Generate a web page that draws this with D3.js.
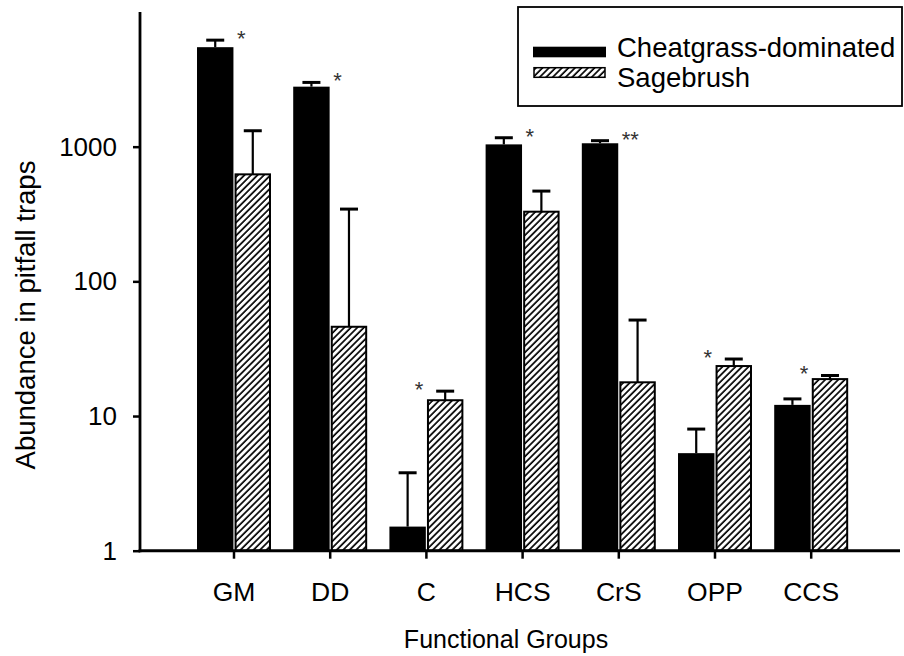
<!DOCTYPE html>
<html>
<head>
<meta charset="utf-8">
<script src="https://cdn.jsdelivr.net/npm/d3@7"></script>
<style>
	body { margin: 0; background: #fff; }
	text { font-family: "Liberation Sans", Arial, sans-serif; fill: #000; }
</style>
</head>
<body>
<svg id="chart" width="904" height="656"></svg>
<script>

// functional groups along the x axis
let groups = ['GM', 'DD', 'C', 'HCS', 'CrS', 'OPP', 'CCS'];
let series = ['Cheatgrass-dominated', 'Sagebrush'];

// means and standard errors
let cheatMean = [5480, 2790, 1.51, 1040, 1060, 5.3, 12.1];
let cheatErr = [700, 210, 2.28, 125, 48, 2.7, 1.3];
let sageMean = [623, 46, 13.1, 329, 17.8, 23.5, 18.8];
let sageErr = [690, 298, 2.2, 139, 33.8, 3.0, 1.2];

// significance marks
let sigMarks = ['*', '*', '*', '*', '**', '*', '*'];

let yTicks = [1, 10, 100, 1000];

let svg = d3.select('#chart');

let y = d3.scaleLog()
			.domain([1, 10000])
			.range([550.7, 12]);

let x0 = d3.scaleBand()
			.domain(groups)
			.range([185.9, 859.3])
			.paddingInner(0.231)
			.paddingOuter(0.1155);

let x1 = d3.scaleBand()
			.domain(series)
			.range([0, x0.bandwidth()])
			.paddingInner(0.03);

// hatch pattern for sagebrush
let defs = svg.append('defs');
let pat = defs.append('pattern')
			.attr('id', 'hatch')
			.attr('patternUnits', 'userSpaceOnUse')
			.attr('width', 4.6)
			.attr('height', 4.6)
			.attr('patternTransform', 'rotate(45)');
pat.append('rect').attr('width', 4.6).attr('height', 4.6).attr('fill', '#fff');
pat.append('line')
		.attr('x1', 1).attr('y1', 0).attr('x2', 1).attr('y2', 4.6)
		.attr('stroke', '#000').attr('stroke-width', 1.7);

let rows = groups.map(function(g, i) {
	return {
		group: g,
		sig: sigMarks[i],
		bars: [
			{ s: series[0], mean: cheatMean[i], err: cheatErr[i] },
			{ s: series[1], mean: sageMean[i], err: sageErr[i] }
		]
	};
});

let grp = svg.selectAll('g.grp')
				.data(rows)
			.enter().append('g')
				.attr('class', 'grp')
				.attr('transform', function(d) { return 'translate(' + x0(d.group) + ',0)'; });

let bar = grp.selectAll('g.bar')
				.data(function(d) { return d.bars; })
			.enter().append('g')
				.attr('class', 'bar');

// error bars (upper only) drawn first, bars on top
bar.append('line')
		.attr('x1', function(d) { return x1(d.s) + x1.bandwidth() / 2; })
		.attr('x2', function(d) { return x1(d.s) + x1.bandwidth() / 2; })
		.attr('y1', function(d) { return y(d.mean); })
		.attr('y2', function(d) { return y(d.mean + d.err); })
		.attr('stroke', '#000')
		.attr('stroke-width', 2.2);

bar.append('line')
		.attr('x1', function(d) { return x1(d.s) + x1.bandwidth() / 2 - 9; })
		.attr('x2', function(d) { return x1(d.s) + x1.bandwidth() / 2 + 9; })
		.attr('y1', function(d) { return y(d.mean + d.err); })
		.attr('y2', function(d) { return y(d.mean + d.err); })
		.attr('stroke', '#000')
		.attr('stroke-width', 3);

bar.append('rect')
		.attr('x', function(d) { return d.s === series[0] ? x1(d.s) : x1(d.s) + 1; })
		.attr('y', function(d) { return y(d.mean); })
		.attr('width', function(d) { return d.s === series[0] ? x1.bandwidth() : x1.bandwidth() - 2; })
		.attr('height', function(d) { return y(1) - y(d.mean); })
		.attr('fill', function(d) { return d.s === series[0] ? '#000' : 'url(#hatch)'; })
		.attr('stroke', '#000')
		.attr('stroke-width', function(d) { return d.s === series[0] ? 0 : 2; });

// asterisks next to the taller bar's error bar
grp.append('text')
		.attr('x', function(d) {
			let c = x0.bandwidth() / 2 + 1;
			return d.bars[0].mean > d.bars[1].mean ? c + 2 : c - 4;
		})
		.attr('y', function(d) {
			let top = d3.max(d.bars, function(b) { return b.mean + b.err; });
			return y(top) + 6;
		})
		.attr('text-anchor', function(d) { return d.bars[0].mean > d.bars[1].mean ? 'start' : 'end'; })
		.attr('font-size', '22px')
		.style('fill', '#333')
		.text(function(d) { return d.sig; });

// y axis
let yAxis = d3.axisLeft(y)
			.tickValues(yTicks)
			.tickFormat(d3.format('d'))
			.tickSize(7)
			.tickPadding(16);

let gy = svg.append('g')
			.attr('transform', 'translate(140,0)')
			.call(yAxis);
gy.select('.domain').remove();
gy.selectAll('line').attr('stroke-width', 2.5);
gy.selectAll('text').attr('font-size', '26px').attr('font-family', null);

svg.append('line')
		.attr('x1', 140).attr('x2', 140)
		.attr('y1', 12).attr('y2', y(1) + 1.5)
		.attr('stroke', '#000').attr('stroke-width', 2.8);

// x axis
let xAxis = d3.axisBottom(x0)
			.tickSize(8)
			.tickPadding(23);

let gx = svg.append('g')
			.attr('transform', 'translate(0,' + y(1) + ')')
			.call(xAxis);
gx.select('.domain').remove();
gx.selectAll('line').attr('stroke-width', 2.5);
gx.selectAll('text').attr('font-size', '26.5px').attr('font-family', null);

svg.append('line')
		.attr('x1', 138.6).attr('x2', 900)
		.attr('y1', y(1)).attr('y2', y(1))
		.attr('stroke', '#000').attr('stroke-width', 3);

// axis titles
svg.append('text')
		.attr('x', 506)
		.attr('y', 648)
		.attr('text-anchor', 'middle')
		.attr('font-size', '25px')
		.text('Functional Groups');

svg.append('text')
		.attr('transform', 'translate(35,315) rotate(-90)')
		.attr('text-anchor', 'middle')
		.attr('font-size', '27.5px')
		.text('Abundance in pitfall traps');

// legend
let legend = svg.append('g');
legend.append('rect')
		.attr('x', 518).attr('y', 7)
		.attr('width', 384).attr('height', 99)
		.attr('fill', '#fff')
		.attr('stroke', '#000')
		.attr('stroke-width', 1.8);

let item = legend.selectAll('g.item')
				.data(series)
			.enter().append('g')
				.attr('class', 'item')
				.attr('transform', function(d, i) { return 'translate(0,' + i * 30 + ')'; });

item.append('rect')
		.attr('x', function(d, i) { return i === 0 ? 533 : 534; })
		.attr('y', function(d, i) { return i === 0 ? 46.7 : 37.7; })
		.attr('width', function(d, i) { return i === 0 ? 73 : 71; })
		.attr('height', function(d, i) { return i === 0 ? 10.6 : 9.6; })
		.attr('fill', function(d, i) { return i === 0 ? '#000' : 'url(#hatch)'; })
		.attr('stroke', '#000')
		.attr('stroke-width', function(d, i) { return i === 0 ? 0 : 1.5; });

item.append('text')
		.attr('x', 617)
		.attr('y', 57)
		.attr('font-size', '27.5px')
		.text(function(d) { return d; });

</script>
</body>
</html>
